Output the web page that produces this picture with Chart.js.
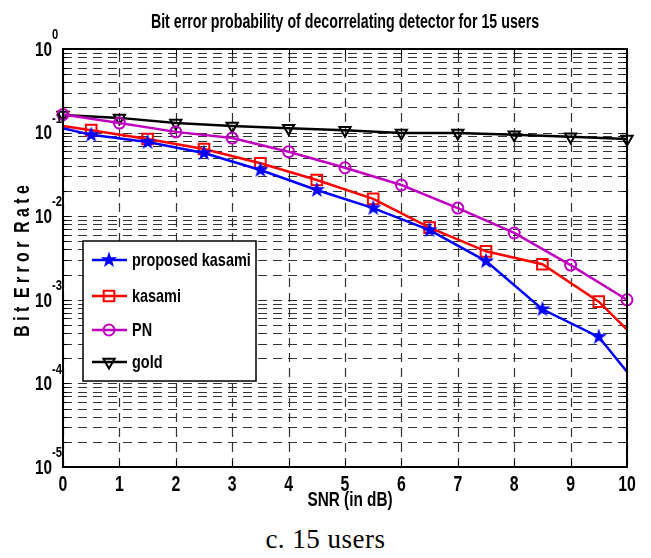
<!DOCTYPE html>
<html lang="en">
<head>
    <meta charset="UTF-8">
    <title>Bit error probability of decorrelating detector for 15 users</title>
    <script src="https://cdn.jsdelivr.net/npm/chart.js"></script>
    <style>
        body {
            margin: 0;
            background: #fff;
        }
        #wrap {
            position: relative;
            width: 651px;
            height: 558px;
        }
        #caption {
            position: absolute;
            left: 0;
            top: 524px;
            width: 651px;
            text-align: center;
            font-family: 'Liberation Serif', 'Times New Roman', serif;
            font-size: 27px;
            letter-spacing: 0.5px;
            color: #000;
        }
    </style>
</head>
<body>
    <div id="wrap">
        <canvas id="chart" width="651" height="515"></canvas>
        <div id="caption">c. 15 users</div>
    </div>

    <script>
        // SNR points (dB)
        const snrHalf = [0, 0.5, 1.5, 2.5, 3.5, 4.5, 5.5, 6.5, 7.5, 8.5, 9.5, 10];
        const snrInt = [0, 1, 2, 3, 4, 5, 6, 7, 8, 9, 10];

        // bit error rates
        const proposedKasami = [0.113, 0.094, 0.077, 0.057, 0.0357, 0.0206, 0.0125, 0.0068, 0.0029, 0.00077, 0.00036, 0.000138];
        const kasami = [0.12, 0.107, 0.084, 0.0637, 0.043, 0.0271, 0.0161, 0.0073, 0.0038, 0.00266, 0.00095, 0.00044];
        const pn = [0.165, 0.13, 0.102, 0.086, 0.059, 0.038, 0.0236, 0.0125, 0.0063, 0.0026, 0.001];
        const gold = [0.162, 0.15, 0.13, 0.12, 0.113, 0.107, 0.099, 0.099, 0.094, 0.089, 0.084];

        const seriesNames = ['proposed kasami', 'kasami', 'PN', 'gold'];
        const xTicks = [0, 1, 2, 3, 4, 5, 6, 7, 8, 9, 10];
        const yExponents = [0, -1, -2, -3, -4, -5];

        const FONT = "'Liberation Sans', Arial, sans-serif";
        const SQUEEZE = 0.74;   // narrow bold lettering

        // filled five point star like matlab's pentagram marker
        function makeStar(color, size) {
            const c = document.createElement('canvas');
            c.width = size;
            c.height = size;
            const g = c.getContext('2d');
            const r = size / 2 - 0.5, r2 = r * 0.4;
            g.beginPath();
            for (let i = 0; i < 10; i++) {
                const rr = i % 2 === 0 ? r : r2;
                const a = -Math.PI / 2 + i * Math.PI / 5;
                g.lineTo(size / 2 + rr * Math.cos(a), size / 2 + rr * Math.sin(a));
            }
            g.closePath();
            g.fillStyle = color;
            g.fill();
            return c;
        }
        const starImg = makeStar('#0000ff', 18);

        const pairs = (xs, ys) => xs.map((x, i) => ({ x: x, y: ys[i] }));
        // markers only on the half-dB points, not at the ends
        const halfRadius = r => ctx => {
            const p = ctx.raw;
            return p && p.x % 1 === 0.5 ? r : 0;
        };

        const markerSize = [7, 7.5, 5.5, 6.5];
        const datasets = [
            {
                label: seriesNames[0],
                data: pairs(snrHalf, proposedKasami),
                borderColor: '#0000ff',
                backgroundColor: '#0000ff',
                pointStyle: starImg,
                pointRadius: halfRadius(markerSize[0]),
                order: 1
            },
            {
                label: seriesNames[1],
                data: pairs(snrHalf, kasami),
                borderColor: '#ff0000',
                backgroundColor: 'rgba(0,0,0,0)',
                pointStyle: 'rect',
                pointRadius: halfRadius(markerSize[1]),
                order: 2
            },
            {
                label: seriesNames[2],
                data: pairs(snrInt, pn),
                borderColor: '#c000c0',
                backgroundColor: 'rgba(0,0,0,0)',
                pointStyle: 'circle',
                pointRadius: markerSize[2],
                order: 3
            },
            {
                label: seriesNames[3],
                data: pairs(snrInt, gold),
                borderColor: '#000000',
                backgroundColor: 'rgba(0,0,0,0)',
                pointStyle: 'triangle',
                pointRotation: 180,
                pointRadius: markerSize[3],
                order: 4
            }
        ];
        datasets.forEach(d => {
            d.borderWidth = 2.5;
            d.pointBorderWidth = 2;
            d.pointBorderColor = d.borderColor;
            d.pointBackgroundColor = d.backgroundColor;
            d.tension = 0;
            d.clip = false;
        });

        function text(ctx, s, x, y, size, align, sx) {
            ctx.save();
            ctx.translate(x, y);
            ctx.scale(sx || SQUEEZE, 1);
            ctx.font = 'bold ' + size + 'px ' + FONT;
            ctx.textAlign = align;
            ctx.textBaseline = 'middle';
            ctx.fillStyle = '#000';
            ctx.fillText(s, 0, 0);
            ctx.restore();
        }

        // dashed matlab-style grid plus inner tick marks
        const dashedGrid = {
            id: 'dashedGrid',
            beforeDatasetsDraw(chart) {
                const ctx = chart.ctx;
                const a = chart.chartArea;
                const xs = chart.scales.x, ys = chart.scales.y;
                ctx.save();
                ctx.strokeStyle = '#333';
                ctx.lineWidth = 1.2;
                ctx.setLineDash([9, 6]);
                xTicks.forEach(v => {
                    const x = Math.round(xs.getPixelForValue(v)) + 0.5;
                    ctx.beginPath();
                    ctx.moveTo(x, a.bottom);
                    ctx.lineTo(x, a.top);
                    ctx.stroke();
                });
                ys.ticks.forEach(t => {
                    const y = Math.round(ys.getPixelForValue(t.value)) + 0.5;
                    ctx.beginPath();
                    ctx.moveTo(a.left, y);
                    ctx.lineTo(a.right, y);
                    ctx.stroke();
                });
                ctx.setLineDash([]);
                ctx.strokeStyle = '#000';
                ctx.lineWidth = 1;
                ys.ticks.forEach(t => {
                    const y = Math.round(ys.getPixelForValue(t.value)) + 0.5;
                    const len = Math.log10(t.value) % 1 === 0 ? 6 : 4;
                    ctx.beginPath();
                    ctx.moveTo(a.left, y);
                    ctx.lineTo(a.left + len, y);
                    ctx.moveTo(a.right, y);
                    ctx.lineTo(a.right - len, y);
                    ctx.stroke();
                });
                xTicks.forEach(v => {
                    const x = Math.round(xs.getPixelForValue(v)) + 0.5;
                    ctx.beginPath();
                    ctx.moveTo(x, a.bottom);
                    ctx.lineTo(x, a.bottom - 6);
                    ctx.moveTo(x, a.top);
                    ctx.lineTo(x, a.top + 6);
                    ctx.stroke();
                });
                ctx.restore();
            }
        };

        // titles, tick labels with exponents, box and legend
        const decorations = {
            id: 'decorations',
            afterDraw(chart) {
                const ctx = chart.ctx;
                const area = chart.chartArea;
                const xScale = chart.scales.x, yScale = chart.scales.y;
                ctx.save();

                ctx.strokeStyle = '#000';
                ctx.lineWidth = 2;
                ctx.strokeRect(area.left, area.top, area.right - area.left, area.bottom - area.top);

                text(ctx, 'Bit error probability of decorrelating detector for 15 users', (area.left + area.right) / 2, 22, 20, 'center', 0.71);

                xTicks.forEach(v => {
                    text(ctx, String(v), xScale.getPixelForValue(v), 485, 22, 'center', 0.72);
                });
                text(ctx, 'SNR (in dB)', 350, 500, 21, 'center', 0.73);

                ctx.save();
                ctx.translate(23, 261);
                ctx.rotate(-Math.PI / 2);
                text(ctx, 'B i t  E r r o r  R a t e', 0, 0, 22, 'center', 0.72);
                ctx.restore();

                yExponents.forEach(e => {
                    const y = yScale.getPixelForValue(Math.pow(10, e));
                    text(ctx, '10', area.left - 11, y + 1, 21, 'right', 0.73);
                    text(ctx, String(e), area.left - 11, y - 14, 15, 'left', 0.75);
                });

                // legend
                const lx = 83, ly = 241, lw = 173, lh = 140;
                ctx.fillStyle = '#fff';
                ctx.fillRect(lx, ly, lw, lh);
                ctx.strokeStyle = '#000';
                ctx.lineWidth = 1.5;
                ctx.strokeRect(lx, ly, lw, lh);
                const rows = [260, 296, 330, 362];
                chart.data.datasets.forEach((d, i) => {
                    const y = rows[i];
                    ctx.strokeStyle = d.borderColor;
                    ctx.lineWidth = 2.5;
                    ctx.beginPath();
                    ctx.moveTo(92, y);
                    ctx.lineTo(127, y);
                    ctx.stroke();
                    ctx.fillStyle = d.backgroundColor;
                    ctx.lineWidth = 2;
                    Chart.helpers.drawPoint(ctx, {
                        pointStyle: d.pointStyle,
                        rotation: d.pointRotation || 0,
                        radius: markerSize[i],
                        borderWidth: 2
                    }, 109, y);
                    text(ctx, d.label, 132, y + 1, 19, 'left', 0.76);
                });

                ctx.restore();
            }
        };

        new Chart(document.getElementById('chart'), {
            type: 'line',
            data: { datasets: datasets },
            plugins: [dashedGrid, decorations],
            options: {
                responsive: false,
                animation: false,
                layout: { padding: { left: 0, top: 49, right: 24, bottom: 0 } },
                plugins: {
                    legend: { display: false },
                    title: { display: false },
                    tooltip: { enabled: false }
                },
                scales: {
                    x: {
                        type: 'linear',
                        min: xTicks[0],
                        max: xTicks[xTicks.length - 1],
                        afterFit(scale) { scale.height = 48; },
                        ticks: { display: false, stepSize: 1 },
                        grid: { display: false },
                        border: { display: false }
                    },
                    y: {
                        type: 'logarithmic',
                        min: 1e-5,
                        max: 1,
                        afterFit(scale) { scale.width = 63; },
                        afterBuildTicks(scale) {
                            const ticks = [];
                            for (let e = -5; e < 0; e++) {
                                for (let m = 1; m <= 9; m++) {
                                    ticks.push({ value: m * Math.pow(10, e) });
                                }
                            }
                            ticks.push({ value: 1 });
                            scale.ticks = ticks;
                        },
                        ticks: { display: false, autoSkip: false },
                        grid: { display: false },
                        border: { display: false }
                    }
                }
            }
        });
    </script>
</body>
</html>
